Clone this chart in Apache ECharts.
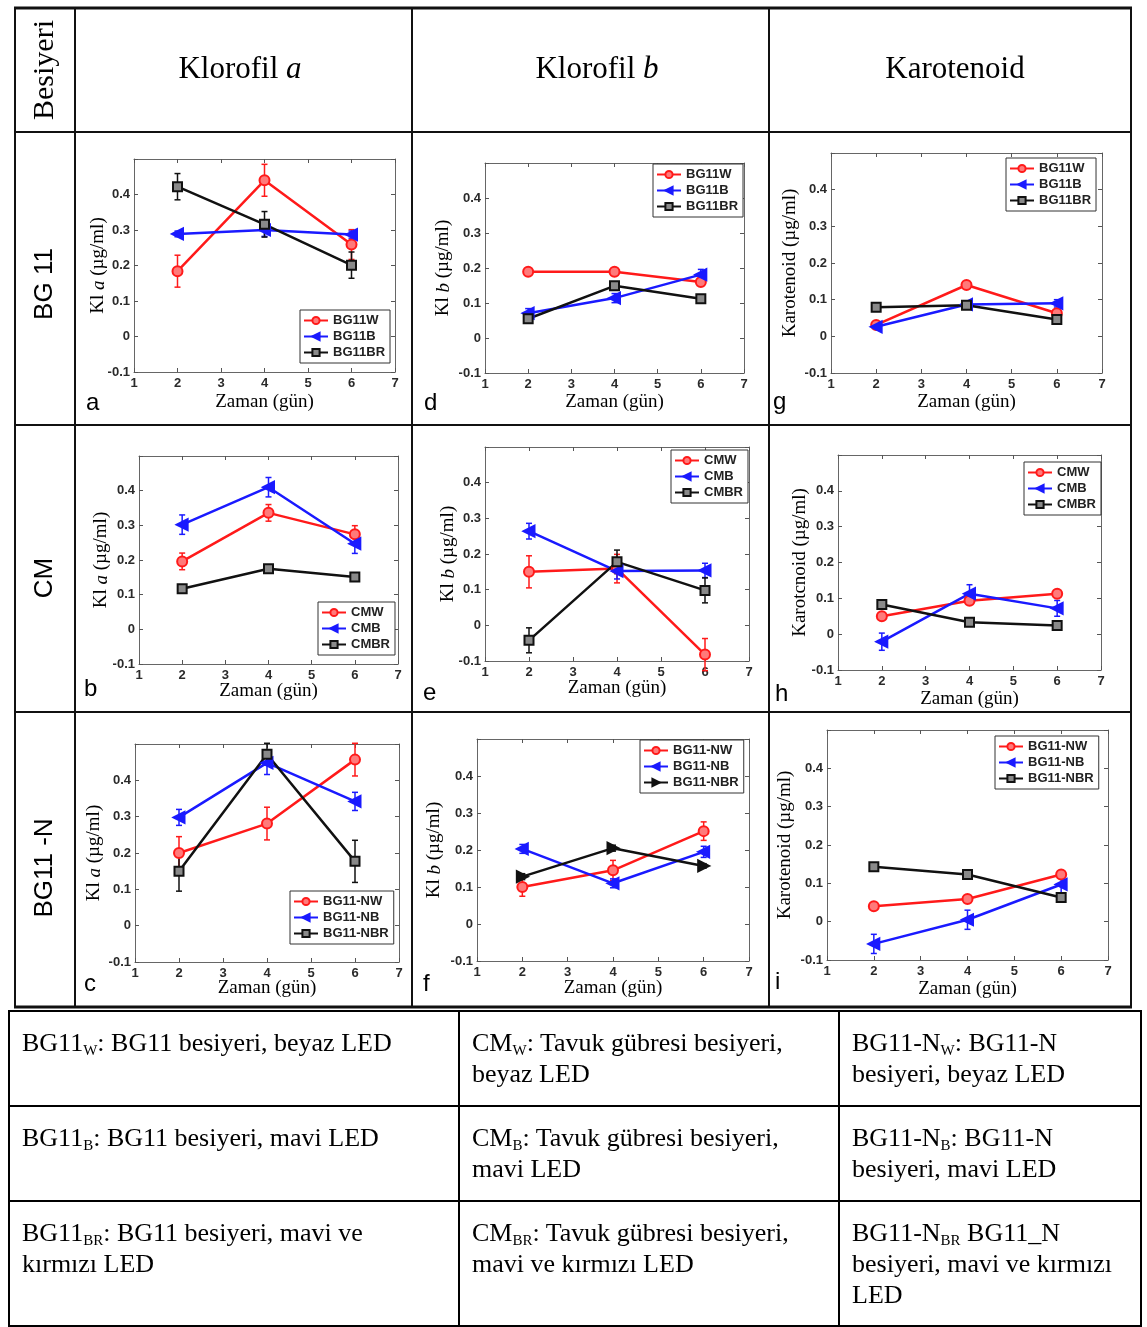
<!DOCTYPE html>
<html>
<head>
<meta charset="utf-8">
<script src="https://cdn.jsdelivr.net/npm/echarts/dist/echarts.min.js"></script>
<style>
  body { margin: 0; background: #fff; }
  #chart { position: absolute; left: 0; top: 0; width: 1147px; height: 1327px; }
  #keyTable {
    position: absolute; left: 8px; top: 1010px; width: 1132px;
    border-collapse: collapse; table-layout: fixed;
    font-family: 'Liberation Serif', 'Times New Roman', serif;
    font-size: 26px; line-height: 31px; color: #000;
  }
  #keyTable td { border: 2px solid #000; vertical-align: top; padding: 15px 6px 0 12px; white-space: nowrap; }
  #keyTable sub { font-size: 15px; line-height: 0; vertical-align: -4px; }
</style>
</head>
<body>
<div id="chart"></div>
<table id="keyTable">
  <colgroup><col style="width:450px"><col style="width:380px"><col style="width:302px"></colgroup>
  <tr style="height:95px">
    <td>BG11<sub>W</sub>: BG11 besiyeri, beyaz LED</td>
    <td>CM<sub>W</sub>: Tavuk gübresi besiyeri,<br>beyaz LED</td>
    <td>BG11-N<sub>W</sub>: BG11-N<br>besiyeri, beyaz LED</td>
  </tr>
  <tr style="height:95px">
    <td>BG11<sub>B</sub>: BG11 besiyeri, mavi LED</td>
    <td>CM<sub>B</sub>: Tavuk gübresi besiyeri,<br>mavi LED</td>
    <td>BG11-N<sub>B</sub>: BG11-N<br>besiyeri, mavi LED</td>
  </tr>
  <tr style="height:125px">
    <td>BG11<sub>BR</sub>: BG11 besiyeri, mavi ve<br>kırmızı LED</td>
    <td>CM<sub>BR</sub>: Tavuk gübresi besiyeri,<br>mavi ve kırmızı LED</td>
    <td>BG11-N<sub>BR</sub> BG11_N<br>besiyeri, mavi ve kırmızı<br>LED</td>
  </tr>
</table>
<script>
// sampling days
const days = [2, 4, 6];

// series names per medium
const bg11Names = ['BG11W', 'BG11B', 'BG11BR'];
const cmNames = ['CMW', 'CMB', 'CMBR'];
const bg11nNames = ['BG11-NW', 'BG11-NB', 'BG11-NBR'];

// a: Klorofil a, BG11
const aW = [0.184, 0.440, 0.259], aWe = [0.045, 0.045, 0.042];
const aB = [0.289, 0.300, 0.287], aBe = [0.008, 0.018, 0.010];
const aBR = [0.422, 0.316, 0.201], aBRe = [0.037, 0.036, 0.037];
// d: Klorofil b, BG11
const dW = [0.189, 0.189, 0.160], dWe = [0.006, 0.006, 0.008];
const dB = [0.071, 0.114, 0.181], dBe = [0.013, 0.013, 0.015];
const dBR = [0.055, 0.149, 0.112], dBRe = [0.008, 0.010, 0.008];
// g: Karotenoid, BG11
const gW = [0.031, 0.140, 0.063], gWe = [0.005, 0.008, 0.008];
const gB = [0.026, 0.087, 0.090], gBe = [0.006, 0.006, 0.010];
const gBR = [0.079, 0.085, 0.046], gBRe = [0.006, 0.006, 0.006];
// b: Klorofil a, CM
const bW = [0.196, 0.336, 0.274], bWe = [0.024, 0.024, 0.025];
const bB = [0.302, 0.410, 0.247], bBe = [0.028, 0.028, 0.028];
const bBR = [0.117, 0.175, 0.151], bBRe = [0.006, 0.006, 0.006];
// e: Klorofil b, CM
const eW = [0.150, 0.159, -0.082], eWe = [0.045, 0.040, 0.045];
const eB = [0.264, 0.152, 0.154], eBe = [0.022, 0.022, 0.020];
const eBR = [-0.042, 0.178, 0.098], eBRe = [0.035, 0.033, 0.035];
// h: Karotenoid, CM
const hW = [0.050, 0.093, 0.113], hWe = [0.006, 0.008, 0.006];
const hB = [-0.021, 0.113, 0.072], hBe = [0.024, 0.025, 0.022];
const hBR = [0.083, 0.033, 0.024], hBRe = [0.005, 0.005, 0.005];
// c: Klorofil a, BG11-N
const cW = [0.200, 0.281, 0.457], cWe = [0.045, 0.045, 0.045];
const cB = [0.298, 0.448, 0.342], cBe = [0.022, 0.032, 0.025];
const cBR = [0.150, 0.472, 0.177], cBRe = [0.055, 0.030, 0.058];
// f: Klorofil b, BG11-N
const fW = [0.100, 0.145, 0.251], fWe = [0.025, 0.027, 0.025];
const fB = [0.203, 0.110, 0.195], fBe = [0.012, 0.012, 0.015];
const fBR = [0.128, 0.205, 0.157], fBRe = [0.008, 0.008, 0.006];
// i: Karotenoid, BG11-N
const iW = [0.040, 0.059, 0.123], iWe = [0.008, 0.008, 0.008];
const iB = [-0.058, 0.005, 0.097], iBe = [0.025, 0.025, 0.025];
const iBR = [0.143, 0.123, 0.063], iBRe = [0.008, 0.008, 0.008];

const serif = "'Liberation Serif', 'Times New Roman', serif";
const sans = "'Liberation Sans', Arial, sans-serif";

// marker look for W / B / BR
const looks = [
  { color: '#ff1a1a', fill: '#ff7a7a', symbol: 'circle', size: 10, rotate: 0 },
  { color: '#1a1aff', fill: '#1a1aff', symbol: 'triangle', size: 11, rotate: 90 },
  { color: '#111111', fill: '#8a8a8a', symbol: 'rect', size: 9, rotate: 0 },
];
const rightTri = { color: '#111111', fill: '#111111', symbol: 'triangle', size: 11, rotate: -90 };

const klA = '{n|Kl }{i|a}{n| (µg/ml)}';
const klB = '{n|Kl }{i|b}{n| (µg/ml)}';

// layout of the nine panels: grid = [left, top, width, height]
const panels = [
  { letter: 'a', names: bg11Names, vals: [aW, aB, aBR], errs: [aWe, aBe, aBRe], yName: klA, grid: [134, 159, 261, 213], xGap: 21, yGap: 26, legend: [300, 310], lt: [86, 403] },
  { letter: 'd', names: bg11Names, vals: [dW, dB, dBR], errs: [dWe, dBe, dBRe], yName: klB, grid: [485, 163, 259, 210], xGap: 20, yGap: 32, legend: [653, 164], lt: [424, 403] },
  { letter: 'g', names: bg11Names, vals: [gW, gB, gBR], errs: [gWe, gBe, gBRe], yName: 'Karotenoid (µg/ml)', grid: [831, 153, 271, 220], xGap: 20, yGap: 31, legend: [1006, 158], lt: [773, 402] },
  { letter: 'b', names: cmNames, vals: [bW, bB, bBR], errs: [bWe, bBe, bBRe], yName: klA, grid: [139, 456, 259, 208], xGap: 18, yGap: 28, legend: [318, 602], lt: [84, 689] },
  { letter: 'e', names: cmNames, vals: [eW, eB, eBR], errs: [eWe, eBe, eBRe], yName: klB, grid: [485, 447, 264, 214], xGap: 18, yGap: 27, legend: [671, 450], lt: [423, 693] },
  { letter: 'h', names: cmNames, vals: [hW, hB, hBR], errs: [hWe, hBe, hBRe], yName: 'Karotcnoid (µg/ml)', grid: [838, 455, 263, 215], xGap: 20, yGap: 28, legend: [1024, 462], lt: [775, 694] },
  { letter: 'c', names: bg11nNames, vals: [cW, cB, cBR], errs: [cWe, cBe, cBRe], yName: klA, grid: [135, 744, 264, 218], xGap: 17, yGap: 31, legend: [290, 891], lt: [84, 984] },
  { letter: 'f', names: bg11nNames, vals: [fW, fB, fBR], errs: [fWe, fBe, fBRe], yName: klB, grid: [477, 739, 272, 222], xGap: 18, yGap: 33, legend: [640, 740], lt: [423, 984], brLook: rightTri, tag: '#f' },
  { letter: 'i', names: bg11nNames, vals: [iW, iB, iBR], errs: [iWe, iBe, iBRe], yName: 'Karotenoid (µg/ml)', grid: [827, 730, 281, 230], xGap: 20, yGap: 32, legend: [995, 736], lt: [775, 982] },
];

const grids = [], xAxes = [], yAxes = [], series = [], legends = [], graphics = [];

const tick = { inside: true, length: 4, lineStyle: { color: '#555' } };
const axLine = { show: true, onZero: false, lineStyle: { color: '#666', width: 1 } };
const tickFont = { color: '#2a2a2a', fontWeight: 'bold', fontSize: 13, fontFamily: sans };

panels.forEach((p, k) => {
  grids.push({ left: p.grid[0], top: p.grid[1], width: p.grid[2], height: p.grid[3], outerBoundsMode: 'none', containLabel: false });

  xAxes.push({
    gridIndex: k, type: 'value', min: 1, max: 7, interval: 1, position: 'bottom',
    axisLine: axLine, axisTick: tick, splitLine: { show: false },
    axisLabel: Object.assign({ margin: 5 }, tickFont),
    name: 'Zaman (gün)', nameLocation: 'middle', nameGap: p.xGap, nameMoveOverlap: false,
    nameTextStyle: { fontFamily: serif, fontSize: 19, color: '#000' },
  });
  xAxes.push({
    gridIndex: k, type: 'value', min: 1, max: 7, interval: 1, position: 'top',
    axisLine: axLine, axisTick: tick, splitLine: { show: false }, axisLabel: { show: false },
  });
  yAxes.push({
    gridIndex: k, type: 'value', min: -0.1, max: 0.5, interval: 0.1, position: 'left',
    axisLine: axLine, axisTick: tick, splitLine: { show: false },
    axisLabel: Object.assign({
      margin: 4,
      formatter: v => (Math.abs(v - 0.5) < 1e-6 ? '' : String(Math.round(v * 10) / 10)),
    }, tickFont),
    name: p.yName, nameLocation: 'middle', nameGap: p.yGap, nameMoveOverlap: false,
    nameTextStyle: {
      fontFamily: serif, fontSize: 19, color: '#000',
      rich: {
        n: { fontFamily: serif, fontSize: 19, color: '#000' },
        i: { fontFamily: serif, fontSize: 19, color: '#000', fontStyle: 'italic' },
      },
    },
  });
  yAxes.push({
    gridIndex: k, type: 'value', min: -0.1, max: 0.5, interval: 0.1, position: 'right',
    axisLine: axLine, axisTick: tick, splitLine: { show: false }, axisLabel: { show: false },
  });

  const legendNames = [];
  p.names.forEach((name, j) => {
    const look = (j === 2 && p.brLook) ? p.brLook : looks[j];
    // a panel-specific tag keeps the legend icon tied to this panel's marker
    const sName = (j === 2 && p.tag) ? name + p.tag : name;
    legendNames.push(sName);
    const vals = p.vals[j], errs = p.errs[j];
    // error bars
    series.push({
      type: 'custom', xAxisIndex: 2 * k, yAxisIndex: 2 * k, silent: true, z: 2,
      encode: { x: 0, y: 1 },
      data: days.map((d, m) => [d, vals[m], errs[m]]),
      renderItem: (params, api) => {
        const x = api.value(0), y = api.value(1), e = api.value(2);
        const t = api.coord([x, y + e]), b = api.coord([x, y - e]);
        const w = 3, st = { stroke: look.color, lineWidth: 1.5 };
        return {
          type: 'group', children: [
            { type: 'line', shape: { x1: t[0], y1: t[1], x2: b[0], y2: b[1] }, style: st },
            { type: 'line', shape: { x1: t[0] - w, y1: t[1], x2: t[0] + w, y2: t[1] }, style: st },
            { type: 'line', shape: { x1: b[0] - w, y1: b[1], x2: b[0] + w, y2: b[1] }, style: st },
          ],
        };
      },
    });
    series.push({
      type: 'line', name: sName, xAxisIndex: 2 * k, yAxisIndex: 2 * k, z: 3,
      data: days.map((d, m) => [d, vals[m]]),
      symbol: look.symbol, symbolSize: look.size, symbolRotate: look.rotate, showSymbol: true,
      lineStyle: { color: look.color, width: 2.5 },
      itemStyle: { color: look.fill, borderColor: look.color, borderWidth: 2 },
      emphasis: { disabled: true },
    });
  });

  legends.push({
    left: p.legend[0], top: p.legend[1], orient: 'vertical',
    data: legendNames, selectedMode: false,
    formatter: n => n.replace('#f', ''),
    itemWidth: 24, itemHeight: 9, itemGap: 3,
    padding: [4, 5, 4, 3],
    backgroundColor: '#fff', borderColor: '#333', borderWidth: 1, borderRadius: 0,
    textStyle: { fontFamily: sans, fontWeight: 'bold', fontSize: 13, color: '#222' },
  });

  graphics.push({
    type: 'text', x: p.lt[0], y: p.lt[1], z: 10,
    style: { text: p.letter, font: '24px ' + sans, fill: '#000', align: 'left', verticalAlign: 'middle' },
  });
});

// table frame around the plots
function hLine(y, x1, x2, t) {
  return { type: 'rect', shape: { x: x1, y: y - t / 2, width: x2 - x1, height: t }, style: { fill: '#111' }, z: 20 };
}
function vLine(x, y1, y2, t) {
  return { type: 'rect', shape: { x: x - t / 2, y: y1, width: t, height: y2 - y1 }, style: { fill: '#111' }, z: 20 };
}
graphics.push(
  hLine(8, 14, 1132, 3), hLine(132, 14, 1132, 2), hLine(425, 14, 1132, 2), hLine(712, 14, 1132, 2), hLine(1007, 14, 1132, 3),
  vLine(15, 8, 1008, 2), vLine(75, 8, 1008, 2), vLine(412, 8, 1008, 2), vLine(769, 8, 1008, 2), vLine(1131, 8, 1008, 2)
);

const headRich = {
  n: { fontFamily: serif, fontSize: 31, color: '#000' },
  i: { fontFamily: serif, fontSize: 31, color: '#000', fontStyle: 'italic' },
};
graphics.push(
  { type: 'text', x: 240, y: 70, style: { text: '{n|Klorofil }{i|a}', rich: headRich, align: 'center', verticalAlign: 'middle' } },
  { type: 'text', x: 597, y: 70, style: { text: '{n|Klorofil }{i|b}', rich: headRich, align: 'center', verticalAlign: 'middle' } },
  { type: 'text', x: 955, y: 70, style: { text: 'Karotenoid', font: '31px ' + serif, fill: '#000', align: 'center', verticalAlign: 'middle' } },
  { type: 'text', x: 45, y: 70, rotation: Math.PI / 2, style: { text: 'Besiyeri', font: '30px ' + serif, fill: '#000', align: 'center', verticalAlign: 'middle' } },
  { type: 'text', x: 45, y: 284, rotation: Math.PI / 2, style: { text: 'BG 11', font: '26px ' + sans, fill: '#000', align: 'center', verticalAlign: 'middle' } },
  { type: 'text', x: 45, y: 578, rotation: Math.PI / 2, style: { text: 'CM', font: '26px ' + sans, fill: '#000', align: 'center', verticalAlign: 'middle' } },
  { type: 'text', x: 45, y: 868, rotation: Math.PI / 2, style: { text: 'BG11 -N', font: '26px ' + sans, fill: '#000', align: 'center', verticalAlign: 'middle' } }
);

const chart = echarts.init(document.getElementById('chart'));
chart.setOption({
  animation: false,
  backgroundColor: '#fff',
  grid: grids,
  xAxis: xAxes,
  yAxis: yAxes,
  legend: legends,
  series: series,
  graphic: graphics,
});
</script>
</body>
</html>
